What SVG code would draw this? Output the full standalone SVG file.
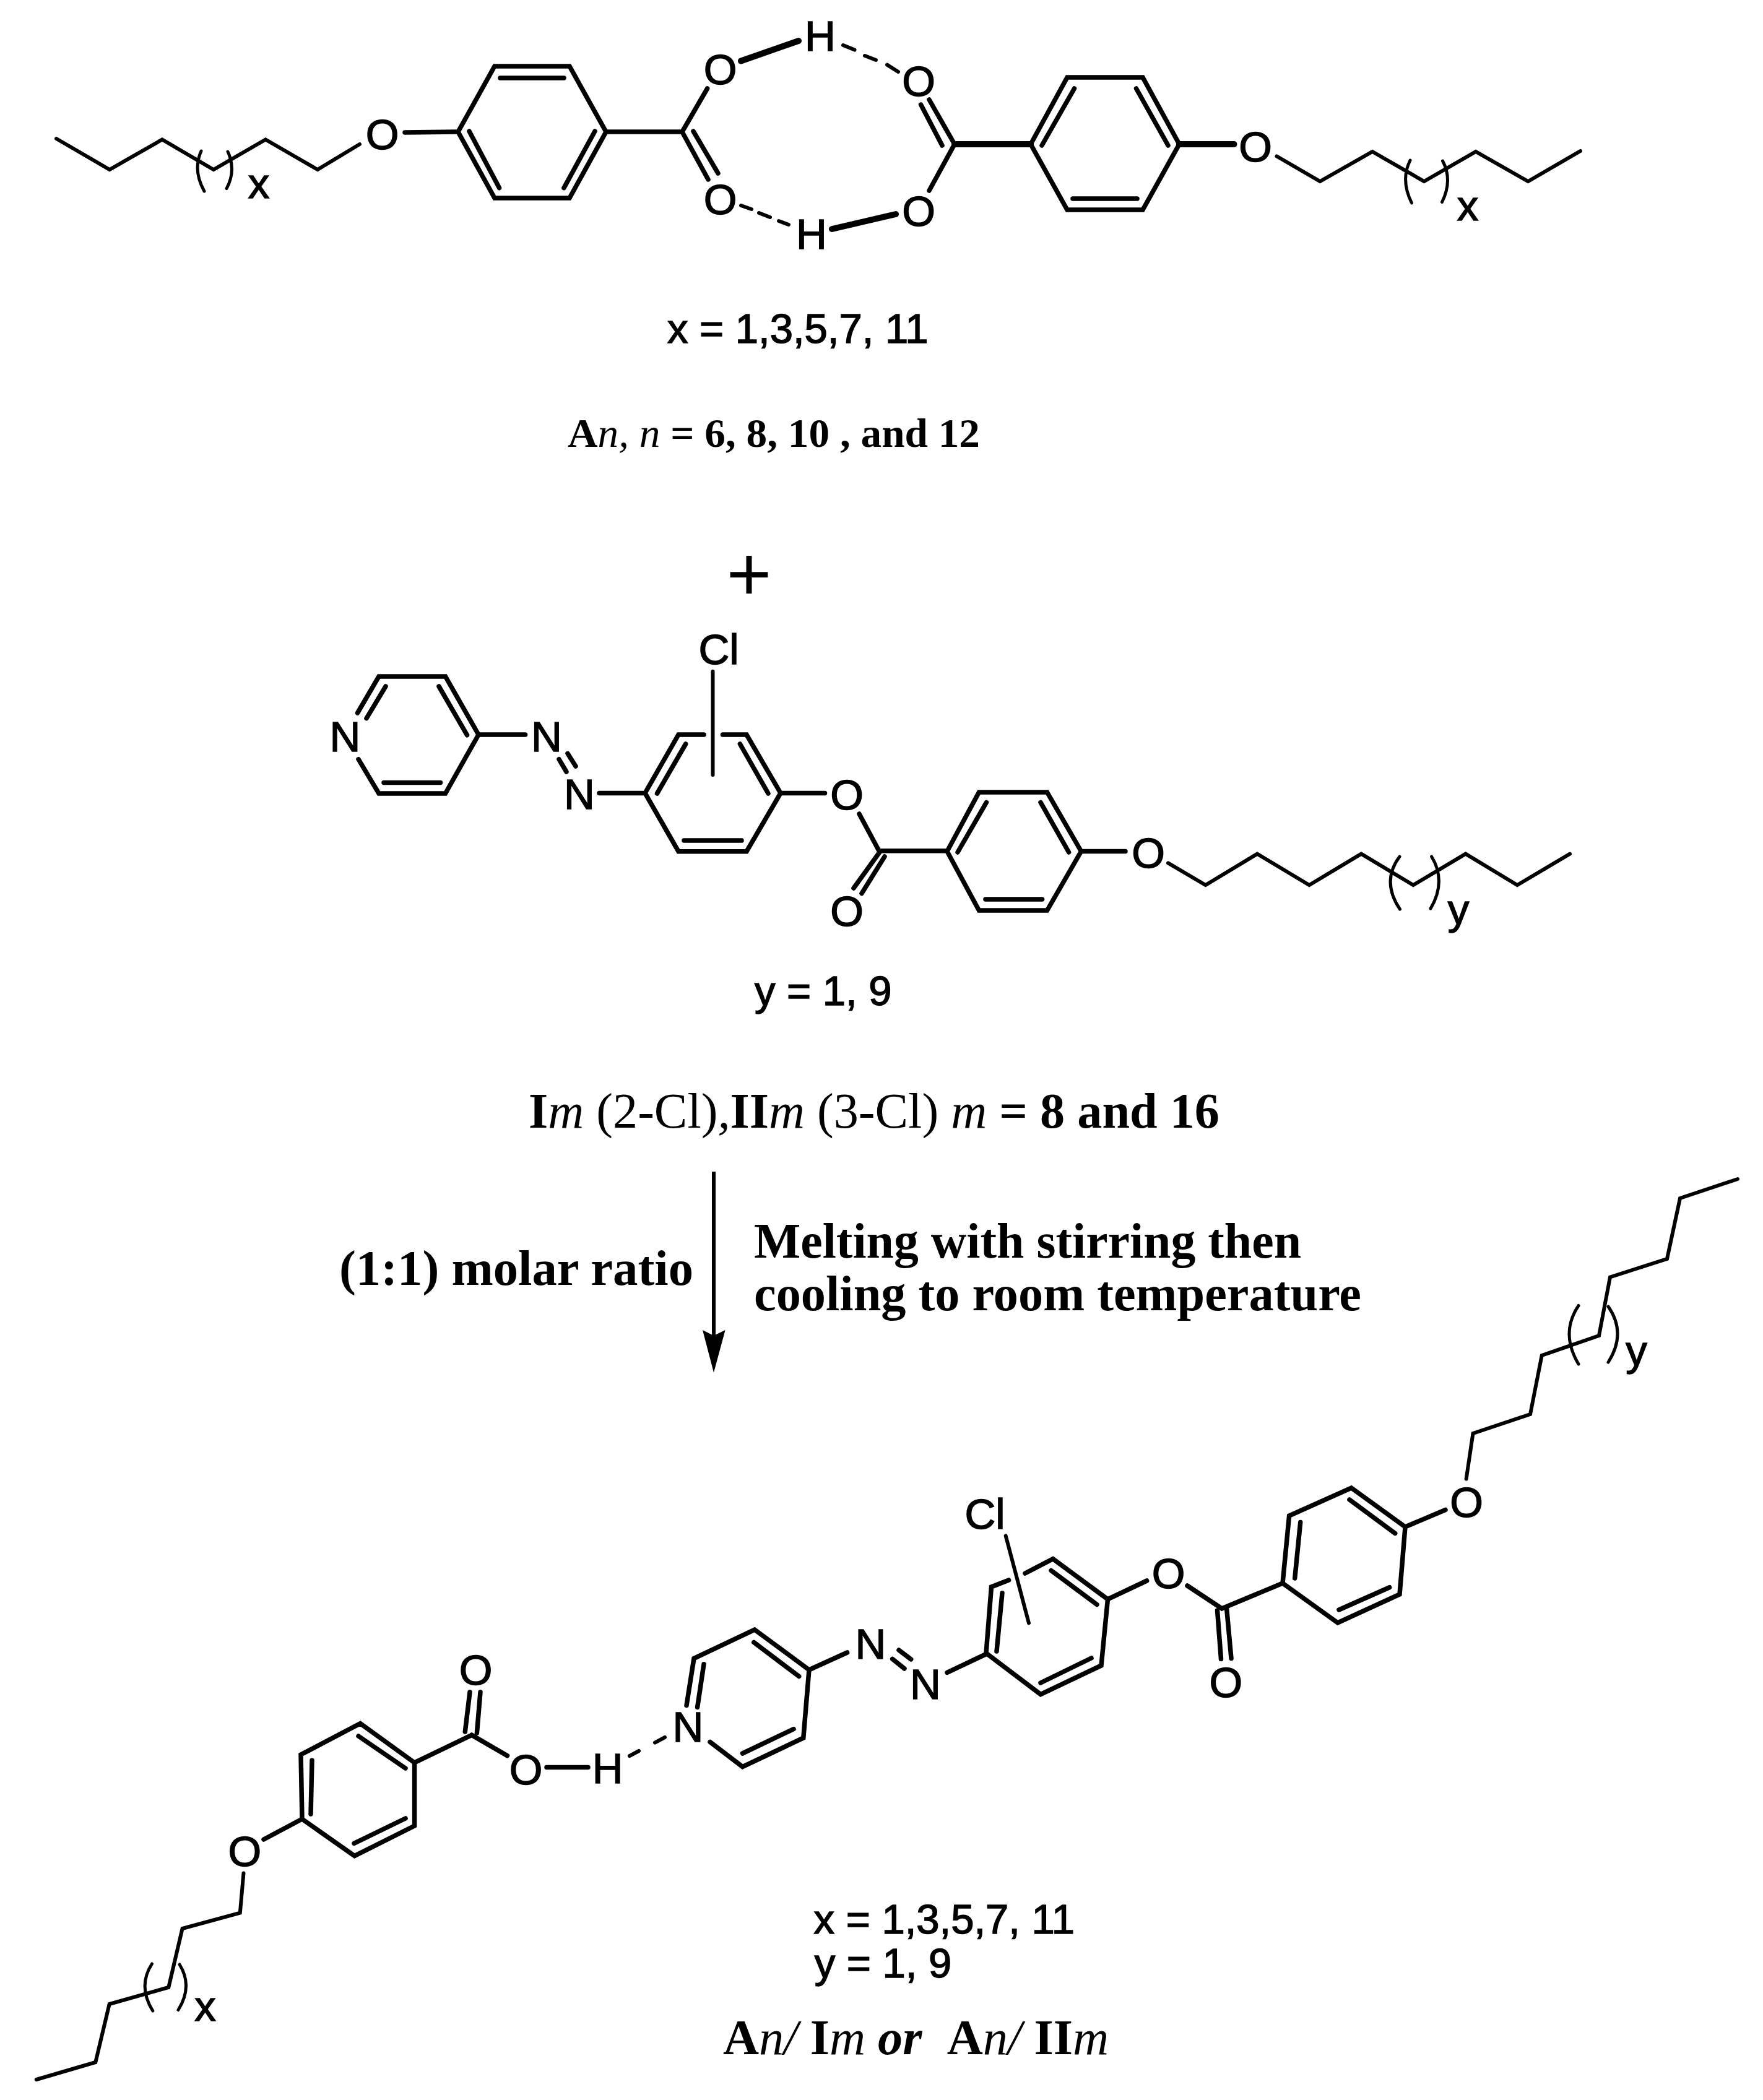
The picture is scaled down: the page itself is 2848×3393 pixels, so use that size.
<svg xmlns="http://www.w3.org/2000/svg" width="2848" height="3393" viewBox="0 0 2848 3393">
<style>
text{fill:#000;white-space:pre}
.a,.l{font-family:"Liberation Sans",Arial,sans-serif;stroke:#000;stroke-width:1.5px}
.a{font-size:69px;text-anchor:middle}
.l{font-size:67px}
.t{font-family:"Liberation Serif","Times New Roman",serif;font-size:80px}
.b{font-weight:700}
.i{font-style:italic}
path{fill:none;stroke:#000;stroke-linecap:round;stroke-linejoin:miter}
.c{stroke-width:6}
.r{stroke-width:7.500}
.k{stroke-width:10}
.p{stroke-width:5}
.d{stroke-width:6}
</style>
<rect width="2848" height="3393" fill="#fff"/>
<g id="connectors">
<g id="bonds-acid-dimer">
<path class="c" d="M91 224L177 274L262 225.500L345 274L429 225.500L513 274L581 233"/>
<path class="p" d="M325 244Q311 275 330 309M368 245Q382 275 366 304.600"/>
<path class="r" d="M654 214L737 213M740 213L799 107H920L979 213L920 320H799Z"/>
<path class="r" d="M808 126H911M758 212L806.500 303.600M961 212L911 303.600"/>
<path class="r" d="M979 213H1102L1142.600 143M1102 213L1144 290M1120 212L1160 280"/>
<path class="k" d="M1197 98.500L1290 66M1344 370L1447 346"/>
<path class="d" d="M1362 73L1380.500 80.600M1397 90L1415 97M1433 104.600L1451 116M1197 332L1214 338M1226 344L1244 351M1258 357L1274 363"/>
<path class="r" d="M1542 233L1501 161M1522 235L1487.600 169M1542 233L1501 308"/>
<path class="k" d="M1542 233H1665M1905 233H1993.500"/>
<path class="r" d="M1665 233L1724 125H1846L1905 233L1846 339H1724Z"/>
<path class="r" d="M1683 235L1735.500 143M1887 235L1835.500 143M1733 321H1837"/>
<path class="c" d="M2062.500 252.500L2132.400 293L2217 245L2300.500 293L2384 245L2468.500 293L2553 244"/>
<path class="p" d="M2278 259Q2262 291 2280.500 328M2330.500 260Q2347 291 2329.500 326.500"/>
</g>
<g id="bonds-azo-ester">
<path class="r" d="M577.500 1152L612 1093H719.500L773 1187L719.500 1282H612L579 1226.700"/>
<path class="r" d="M592 1160.600L623 1109M709 1109L754.500 1187.700M620 1264.600H711.500M773 1187H848.600"/>
<path class="r" d="M903 1226.700L915 1247M917 1217.500L930 1238M968 1281.400H1042"/>
<path class="r" d="M1137 1187H1096L1042 1281.400L1096 1375.700H1206L1261 1281.400L1206 1187H1167.500"/>
<path class="r" d="M1061.500 1282L1107.700 1202M1195.400 1202L1241 1282M1105 1358H1198"/>
<path class="c" d="M1151.500 1084.700V1252"/>
<path class="r" d="M1261 1281.400H1332.500M1388 1315L1420 1374.700H1530M1422.500 1374.700L1379 1435M1429 1384L1392 1443.500"/>
<path class="r" d="M1530 1375.500L1581.500 1280H1691.500L1746.500 1375.500L1691.500 1471H1581.500Z"/>
<path class="r" d="M1547 1377L1593.500 1296.400M1681 1296.400L1726.600 1377M1592 1453H1683.600M1746.500 1375.500H1818"/>
<path class="c" d="M1887 1394.400L1947.500 1430L2031 1379.600L2115 1430L2199 1379.600L2283 1430L2367.600 1379.600L2451 1430L2536 1379.600"/>
<path class="p" d="M2261 1384Q2231 1424 2261.500 1469M2312.600 1384Q2337 1424 2311 1468"/>
</g>
<g id="arrow">
<path class="r" style="stroke-linecap:butt;stroke-width:6px" d="M1153 1893V2160"/>
<path style="fill:#000;stroke:none" d="M1135 2149L1153 2158L1171.600 2149L1153 2217.700Z"/>
</g>
<g id="bonds-complex">
<path class="c" d="M2807 1905L2714 1936L2693 2034L2601 2063.500L2583 2158L2490.700 2190L2472 2285L2379.500 2316L2368.600 2389.600"/>
<path class="p" d="M2550 2109.500Q2520 2154 2550 2204M2598 2111Q2628 2154 2598 2201"/>
<path class="r" d="M2335 2439.500L2270 2467L2183 2404L2082.600 2449L2072 2558L2161 2622L2261 2576L2270 2467"/>
<path class="r" d="M2180 2423L2253.700 2477.400M2100.700 2459.600L2091.700 2550M2244.600 2564.700L2163 2601M2072 2558L1973.800 2599L1918 2562"/>
<path class="r" d="M1966.500 2602L1972.500 2680.600M1981.600 2599L1989 2679.500"/>
<path class="r" d="M1852.600 2554L1789.500 2584L1701 2518.700L1656 2542M1629.600 2553L1601.500 2564L1593 2671L1681 2737.600L1779 2691L1789.500 2584"/>
<path class="r" d="M1698 2537.400L1772 2592.500M1619 2574L1610 2668M1763 2679L1681 2719M1530 2702.400L1593 2672.500"/>
<path class="c" d="M1624.700 2481.400L1662 2622.400"/>
<path class="r" d="M1441.600 2680.400L1461 2696M1452 2666L1471.700 2681M1307 2698L1368.600 2670"/>
<path class="r" d="M1109 2755.500L1121 2679.600L1219 2633L1307 2698L1297.800 2808L1199.500 2854.600L1147 2814.400"/>
<path class="r" d="M1137 2688.700L1126.600 2758.400M1217.800 2653.500L1290.700 2708.600M1282 2793.600L1199.500 2833"/>
<path class="d" d="M1074 2807L1058 2815.600M1032 2829L1017 2837"/>
<path class="r" d="M883 2855.400H950M762 2803.300L819.500 2836.700M751.300 2798L759 2734M770.400 2800L776 2734"/>
<path class="r" d="M762 2803.300L669.600 2848L582 2784.600L486 2835L488 2939L572.700 2998.600L669.600 2950L669.600 2848"/>
<path class="r" d="M579 2805L655 2857M504 2844.300L502 2931M655 2938L572 2978.400M488 2939L426 2972"/>
<path class="c" d="M393.500 3026.400L387.800 3090.600L294.600 3116L272.300 3211L176.700 3238L154.300 3332L58.700 3360"/>
<path class="p" d="M245.500 3173Q222 3209 246.800 3249M290 3174Q312 3209 288 3247.500"/>
</g>
</g>
<g id="atoms-acid-dimer">
<text class="a" x="617.500" y="241">O</text>
<text class="a" x="418" y="320">x</text>
<text class="a" x="1163.500" y="136">O</text>
<text class="a" x="1163.500" y="346">O</text>
<text class="a" x="1325" y="82">H</text>
<text class="a" x="1311" y="402">H</text>
<text class="a" x="1484" y="155">O</text>
<text class="a" x="1484" y="365">O</text>
<text class="a" x="2028" y="261">O</text>
<text class="a" x="2371" y="356">x</text>
</g>
<g id="label-x1"><text class="l" x="1078" y="553.500">x = 1,3,5,7, 11</text></g>
<g id="label-an"><text class="t" style="font-size:65.600px" x="917" y="722" textLength="666" lengthAdjust="spacingAndGlyphs"><tspan class="b">A</tspan><tspan class="i">n, n</tspan><tspan class="b"> = 6, 8, 10 , and 12</tspan></text></g>
<g id="plus"><text class="a" style="font-size:125px;stroke-width:0" x="1210" y="970">+</text></g>
<g id="atoms-azo-ester">
<text class="a" x="557.500" y="1214">N</text>
<text class="a" x="883" y="1214">N</text>
<text class="a" x="936" y="1307">N</text>
<text class="a" x="1161" y="1073">Cl</text>
<text class="a" x="1368" y="1308">O</text>
<text class="a" x="1368" y="1496">O</text>
<text class="a" x="1855" y="1402">O</text>
<text class="a" x="2356" y="1493">y</text>
</g>
<g id="label-y1"><text class="l" x="1219" y="1624">y = 1, 9</text></g>
<g id="label-im"><text class="t" x="854" y="1822" textLength="1116" lengthAdjust="spacingAndGlyphs"><tspan class="b">I</tspan><tspan class="i">m</tspan> (2-Cl)<tspan class="i">,</tspan><tspan class="b">II</tspan><tspan class="i">m</tspan> (3-Cl) <tspan class="i">m</tspan><tspan class="b"> = 8 and 16</tspan></text></g>
<g id="label-ratio"><text class="t b" x="548" y="2076" textLength="572" lengthAdjust="spacingAndGlyphs">(1:1) molar ratio</text></g>
<g id="label-conditions">
<text class="t b" x="1218" y="2032" textLength="884" lengthAdjust="spacingAndGlyphs">Melting with stirring then</text>
<text class="t b" x="1218" y="2117" textLength="981" lengthAdjust="spacingAndGlyphs">cooling to room temperature</text>
</g>
<g id="atoms-complex">
<text class="a" x="2369" y="2451">O</text>
<text class="a" x="2643.600" y="2206">y</text>
<text class="a" x="1980.400" y="2742">O</text>
<text class="a" x="1887.700" y="2565.700">O</text>
<text class="a" x="1591" y="2470">Cl</text>
<text class="a" x="1406.500" y="2680.400">N</text>
<text class="a" x="1495" y="2744.700">N</text>
<text class="a" x="1111.500" y="2814">N</text>
<text class="a" x="981.700" y="2880.700">H</text>
<text class="a" x="849.500" y="2883">O</text>
<text class="a" x="768.500" y="2722">O</text>
<text class="a" x="395.400" y="3014.500">O</text>
<text class="a" x="331.600" y="3265">x</text>
</g>
<g id="label-xy">
<text class="l" x="1314.600" y="3124">x = 1,3,5,7, 11</text>
<text class="l" x="1315.700" y="3195">y = 1, 9</text>
</g>
<g id="label-complex"><text class="t" x="1168" y="3319" textLength="623" lengthAdjust="spacingAndGlyphs"><tspan class="b">A</tspan><tspan class="i">n/</tspan> <tspan class="b">I</tspan><tspan class="i">m</tspan> <tspan class="b i">or</tspan>  <tspan class="b">A</tspan><tspan class="i">n/</tspan> <tspan class="b">II</tspan><tspan class="i">m</tspan></text></g>
</svg>
